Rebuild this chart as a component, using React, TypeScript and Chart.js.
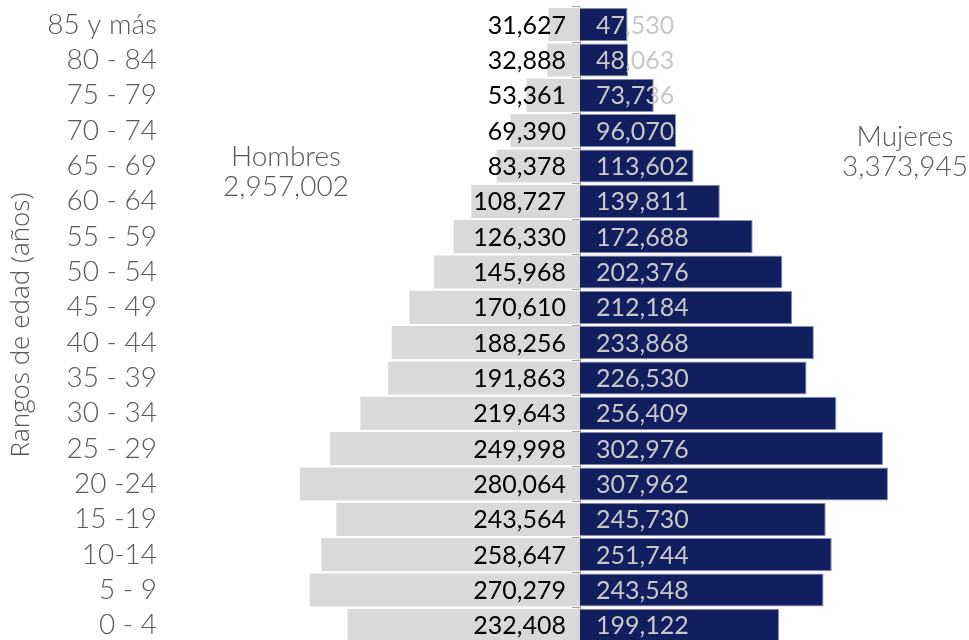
import React, { useEffect, useRef } from "react";
import { Chart, registerables } from "chart.js";

Chart.register(...registerables);

const categories = [
  "85 y más", "80 - 84", "75 - 79", "70 - 74", "65 - 69", "60 - 64",
  "55 - 59", "50 - 54", "45 - 49", "40 - 44", "35 - 39", "30 - 34",
  "25 - 29", "20 -24", "15 -19", "10-14", "5 - 9", "0 - 4",
];
const hombres = [
  31627, 32888, 53361, 69390, 83378, 108727, 126330, 145968, 170610,
  188256, 191863, 219643, 249998, 280064, 243564, 258647, 270279, 232408,
];
const mujeres = [
  47530, 48063, 73736, 96070, 113602, 139811, 172688, 202376, 212184,
  233868, 226530, 256409, 302976, 307962, 245730, 251744, 243548, 199122,
];
const seriesNames = ["Hombres", "Mujeres"];
const seriesTotals = ["2,957,002", "3,373,945"];
const axisTitle = "Rangos de edad (años)";

const fmt = (v: number) => Math.abs(v).toLocaleString("en-US");

const labelsPlugin = {
  id: "pyramidLabels",
  afterDatasetsDraw(chart: any) {
    const ctx = chart.ctx;
    const xs = chart.scales.x;
    const ys = chart.scales.y;
    const zero = xs.getPixelForValue(0);
    ctx.save();
    ctx.font = "25px Lato";
    ctx.textBaseline = "middle";
    const m0 = chart.getDatasetMeta(0);
    ctx.fillStyle = "#000000";
    ctx.textAlign = "right";
    m0.data.forEach((el: any, i: number) => {
      ctx.fillText(fmt(hombres[i]), zero - 14, el.y + 1);
    });
    const m1 = chart.getDatasetMeta(1);
    ctx.fillStyle = "#c8c8c8";
    ctx.textAlign = "left";
    m1.data.forEach((el: any, i: number) => {
      ctx.fillText(fmt(mujeres[i]), zero + 16, el.y + 1);
    });
    // series annotations
    ctx.fillStyle = "#595959";
    ctx.textAlign = "center";
    ctx.font = "300 28px Lato";
    const hx = xs.getPixelForValue(-294000);
    ctx.fillText(seriesNames[0], hx, ys.getPixelForValue(3.74));
    ctx.fillText(seriesTotals[0], hx, ys.getPixelForValue(4.6));
    const mx = xs.getPixelForValue(325000);
    ctx.fillText(seriesNames[1], mx, ys.getPixelForValue(3.18));
    ctx.fillText(seriesTotals[1], mx, ys.getPixelForValue(4.03));
    ctx.restore();
  },
};

export default function App() {
  const ref = useRef<HTMLCanvasElement | null>(null);
  useEffect(() => {
    if (!ref.current) return;
    const chart = new Chart(ref.current, {
      type: "bar",
      data: {
        labels: categories,
        datasets: [
          {
            label: seriesNames[0],
            data: hombres.map((v) => -v),
            backgroundColor: "#d9d9d9",
            borderWidth: 0,
            barPercentage: 0.94,
            categoryPercentage: 1,
          },
          {
            label: seriesNames[1],
            data: mujeres,
            backgroundColor: "#121f5e",
            borderColor: "#8a90b5",
            borderWidth: 1,
            barPercentage: 0.94,
            categoryPercentage: 1,
          },
        ],
      },
      options: {
        indexAxis: "y",
        animation: false,
        responsive: false,
        maintainAspectRatio: false,
        layout: { padding: { top: 7, bottom: 7, left: 0, right: 0 } },
        plugins: {
          legend: { display: false },
          tooltip: { enabled: false },
        },
        scales: {
          x: {
            type: "linear",
            min: -410000,
            max: 389000,
            stacked: true,
            display: false,
          },
          y: {
            stacked: true,
            offset: true,
            grid: { display: false, drawTicks: false },
            border: { display: false },
            ticks: {
              autoSkip: false,
              padding: 13,
              color: "#595959",
              font: { family: "Lato", size: 28, weight: "300" },
            },
            title: {
              display: true,
              text: axisTitle,
              color: "#595959",
              font: { family: "Open Sans", size: 26, weight: "300" },
              padding: { top: 6, bottom: 0 },
            },
            afterFit: (s: any) => {
              s.width = 170;
              s.paddingTop = 0;
              s.paddingBottom = 0;
            },
          },
          y2: {
            type: "category",
            labels: categories,
            position: { x: 0 },
            offset: true,
            z: 1,
            grid: {
              offset: true,
              drawOnChartArea: false,
              drawTicks: true,
              tickLength: 8,
              color: "#a6a6a6",
            },
            border: { display: true, color: "#a6a6a6" },
            ticks: { display: false, autoSkip: false },
            afterFit: (s: any) => {
              s.paddingTop = 0;
              s.paddingBottom = 0;
            },
          },
        } as any,
      },
      plugins: [labelsPlugin],
    });
    return () => chart.destroy();
  }, []);
  return (
    <div style={{ position: "absolute", left: 0, top: 0, width: 969, height: 650 }}>
      <canvas ref={ref} width={969} height={650} />
    </div>
  );
}
